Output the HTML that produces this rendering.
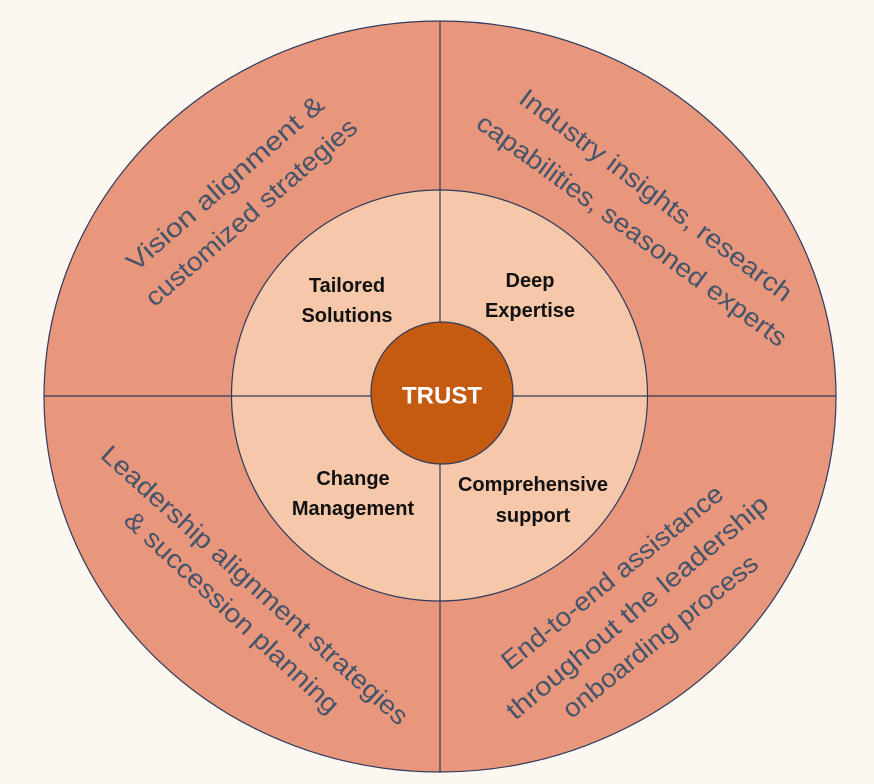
<!DOCTYPE html>
<html><head><meta charset="utf-8"><style>
html,body{margin:0;padding:0;background:#fdf7f1;}
svg{display:block;}
.o{font-family:"Liberation Sans",sans-serif;font-size:26px;fill:#44546a;}
.i{font-family:"Liberation Sans",sans-serif;font-size:20px;font-weight:bold;fill:#111;}
</style></head><body>
<svg width="874" height="784" viewBox="0 0 874 784" xmlns="http://www.w3.org/2000/svg">
<rect width="874" height="784" fill="#fdf7f1"/>
<ellipse cx="440" cy="396.5" rx="396" ry="375.5" fill="#e9977c" stroke="#2f3a5a" stroke-width="1.2"/>
<line x1="440" y1="21" x2="440" y2="772" stroke="#2f3a5a" stroke-width="1.2"/>
<line x1="44" y1="396" x2="836" y2="396" stroke="#2f3a5a" stroke-width="1.2"/>
<ellipse cx="439.5" cy="395.5" rx="208" ry="205.5" fill="#f6c8a9" stroke="#2f3a5a" stroke-width="1.2"/>
<line x1="440" y1="190" x2="440" y2="601" stroke="#2f3a5a" stroke-width="1.2"/>
<line x1="231" y1="396" x2="648" y2="396" stroke="#2f3a5a" stroke-width="1.2"/>
<ellipse cx="442" cy="393" rx="71" ry="71" fill="#c55a11" stroke="#2f3a5a" stroke-width="1.2"/>
<text x="442" y="396" text-anchor="middle" dominant-baseline="central" font-family="Liberation Sans,sans-serif" font-weight="bold" font-size="24" fill="#fff">TRUST</text>

<g class="i" text-anchor="middle">
<text x="347" y="292">Tailored</text><text x="347" y="322">Solutions</text>
<text x="530" y="287">Deep</text><text x="530" y="317">Expertise</text>
<text x="353" y="485">Change</text><text x="353" y="515">Management</text>
<text x="533" y="491">Comprehensive</text><text x="533" y="522">support</text>
</g>

<g class="o" text-anchor="middle" dominant-baseline="central">
<text transform="translate(225,183) rotate(-41)" textLength="252" lengthAdjust="spacingAndGlyphs">Vision alignment &amp;</text>
<text transform="translate(251,212) rotate(-41)" textLength="271" lengthAdjust="spacingAndGlyphs">customized strategies</text>
<text transform="translate(656,195) rotate(37)" textLength="334" lengthAdjust="spacingAndGlyphs">Industry insights, research</text>
<text transform="translate(632,230) rotate(36)" textLength="376" lengthAdjust="spacingAndGlyphs">capabilities, seasoned experts</text>
<text transform="translate(255,585) rotate(42)" textLength="403" lengthAdjust="spacingAndGlyphs">Leadership alignment strategies</text>
<text transform="translate(232,612) rotate(43)" textLength="283" lengthAdjust="spacingAndGlyphs">&amp; succession planning</text>
<text transform="translate(612,577) rotate(-39)" textLength="277" lengthAdjust="spacingAndGlyphs">End-to-end assistance</text>
<text transform="translate(637,607) rotate(-40)" textLength="333" lengthAdjust="spacingAndGlyphs">throughout the leadership</text>
<text transform="translate(660,636) rotate(-39)" textLength="243" lengthAdjust="spacingAndGlyphs">onboarding process</text>
</g>
</svg>
</body></html>
